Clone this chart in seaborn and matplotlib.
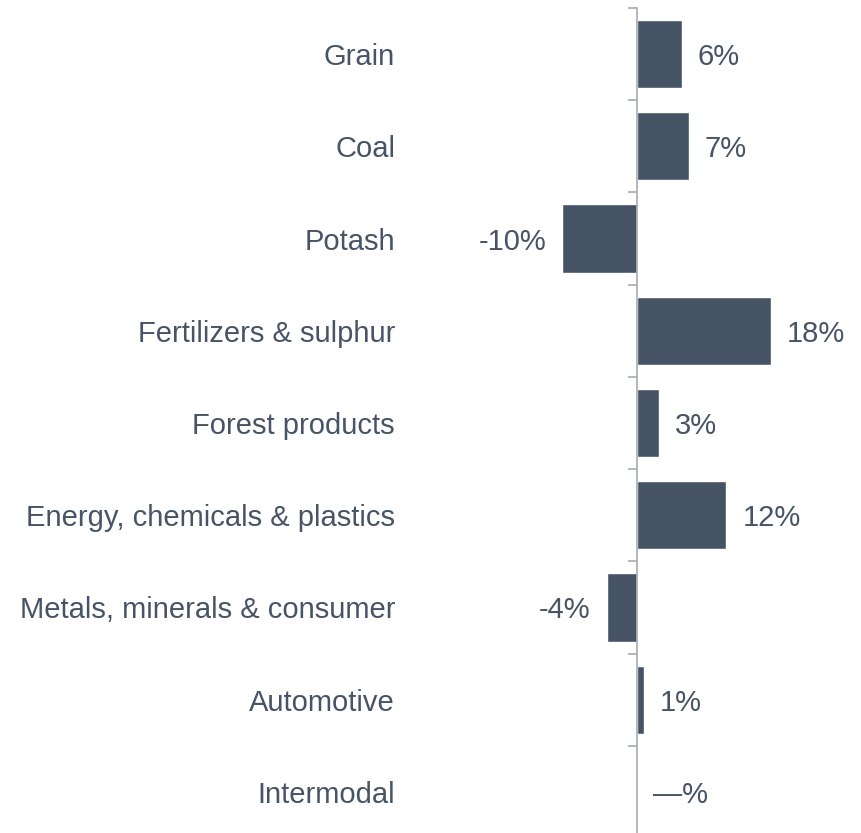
import numpy as np
import pandas as pd
import matplotlib
matplotlib.use('Agg')
import matplotlib.pyplot as plt
import seaborn as sns

# data
categories = ['Grain', 'Coal', 'Potash', 'Fertilizers & sulphur', 'Forest products',
              'Energy, chemicals & plastics', 'Metals, minerals & consumer',
              'Automotive', 'Intermodal']
changes = [6, 7, -10, 18, 3, 12, -4, 1, 0]
labels = ['6%', '7%', '-10%', '18%', '3%', '12%', '-4%', '1%', '—%']

df = pd.DataFrame({'category': categories, 'change': changes})

sns.set_style('white')
plt.rcParams['font.family'] = ['Liberation Sans', 'DejaVu Sans']

bar_col = '#465364'
text_col = '#485466'
axis_col = '#a7abb0'

W, H = 861, 833
fig = plt.figure(figsize=(W / 100, H / 100), dpi=100)
# axes from x=405px to right edge, y band 8px..838px
ax = fig.add_axes([405 / W, (H - 838) / H, (W - 405) / W, 830 / H])

sns.barplot(data=df, x='change', y='category', orient='h', color=bar_col,
            width=0.74, saturation=1, ax=ax)

px_per_unit = 7.47
zero_px = 636.7
ax.set_xlim((405 - zero_px) / px_per_unit, (W - zero_px) / px_per_unit)
ax.set_ylim(8.5, -0.5)

for s in ['top', 'right', 'bottom']:
    ax.spines[s].set_visible(False)
ax.spines['left'].set_position(('data', 0))
ax.spines['left'].set_color(axis_col)
ax.spines['left'].set_linewidth(1.2)

ax.set_xticks([])
ax.set_xlabel('')
ax.set_ylabel('')

# category labels at band centers, ticks at band edges
ax.set_yticks(range(len(categories)))
ax.set_yticklabels(categories)
ax.tick_params(axis='y', which='major', length=0, pad=174,
               labelsize=21, labelcolor=text_col)
ax.set_yticks(np.arange(-0.5, len(categories), 1), minor=True)
ax.tick_params(axis='y', which='minor', length=6.5, width=1.2,
               color=axis_col, left=True)

for i, (v, lab) in enumerate(zip(changes, labels)):
    if v < 0:
        ax.annotate(lab, (v, i), xytext=(-16, -3), textcoords='offset pixels',
                    ha='right', va='center', fontsize=21, color=text_col)
    else:
        ax.annotate(lab, (v, i), xytext=(16, -3), textcoords='offset pixels',
                    ha='left', va='center', fontsize=21, color=text_col)

fig.savefig('out.png', dpi=100)
